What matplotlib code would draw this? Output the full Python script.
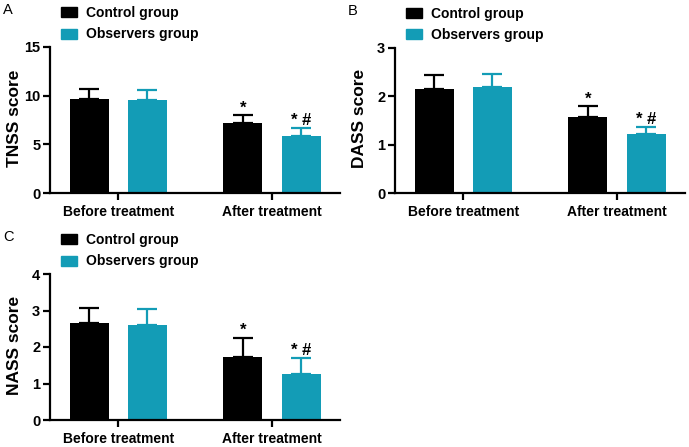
import numpy as np
import matplotlib
matplotlib.use("Agg")
import matplotlib.pyplot as plt
from matplotlib.patches import Patch

plt.rcParams['font.family'] = ['Liberation Sans', 'DejaVu Sans']
plt.rcParams['font.weight'] = 'bold'

# data
groups = ["Before treatment", "After treatment"]
series = ["Control group", "Observers group"]
colors = ["#000000", "#139cb6"]

tnss_mean = {"Control group": [9.63, 7.23], "Observers group": [9.53, 5.86]}
tnss_err = {"Control group": [1.03, 0.75], "Observers group": [1.10, 0.79]}
dass_mean = {"Control group": [2.15, 1.57], "Observers group": [2.19, 1.22]}
dass_err = {"Control group": [0.29, 0.22], "Observers group": [0.27, 0.14]}
nass_mean = {"Control group": [2.67, 1.72], "Observers group": [2.60, 1.27]}
nass_err = {"Control group": [0.41, 0.54], "Observers group": [0.45, 0.42]}

marks = {"Control group": "*", "Observers group": "* #"}

W, H = 689, 447
fig = plt.figure(figsize=(W / 100, H / 100), dpi=100)


def px_axes(left, top, right, bottom):
    return fig.add_axes([left / W, 1 - bottom / H, (right - left) / W, (bottom - top) / H])


def panel(ax, means, errs, ymax, yticks, ylabel, letter):
    x = np.arange(len(groups))
    bw = 0.254
    offs = [-0.189, 0.189]
    for s, c, o in zip(series, colors, offs):
        ax.bar(x + o, means[s], width=bw, color=c, zorder=2)
        ax.errorbar(x + o, means[s], yerr=[np.zeros(len(x)), errs[s]], fmt='none',
                    ecolor=c, elinewidth=1.6, capsize=7, capthick=1.6, zorder=1)
        top = np.array(means[s][1]) + errs[s][1]
        ax.annotate(marks[s], (x[1] + o, top), xytext=(0, 0), textcoords='offset points',
                    ha='center', va='bottom', fontsize=12, fontweight='bold')
    ax.set_xlim(-0.446, 1.443)
    ax.set_ylim(0, ymax)
    ax.set_yticks(yticks)
    ax.set_xticks(x)
    ax.set_xticklabels(groups)
    ax.set_ylabel(ylabel, fontsize=12.5, fontweight='bold')
    ax.yaxis.set_label_coords(-0.095, 0.51)
    for sp in ['top', 'right']:
        ax.spines[sp].set_visible(False)
    for sp in ['left', 'bottom']:
        ax.spines[sp].set_linewidth(1.6)
    ax.tick_params(width=1.6, length=5)
    ax.tick_params(axis='x', labelsize=10)
    ax.tick_params(axis='y', labelsize=10.5, pad=2)
    for lab in ax.get_xticklabels() + ax.get_yticklabels():
        lab.set_fontweight('bold')
    handles = [Patch(color=c, label=s) for s, c in zip(series, colors)]
    ax.legend(handles=handles, loc='lower left', bbox_to_anchor=(0.02, 1.0), frameon=False,
              handlelength=1.1, handleheight=0.75, handletextpad=0.7, labelspacing=0.55,
              borderpad=0.1, borderaxespad=0.3,
              prop={'family': ['Liberation Sans'], 'weight': 'bold', 'size': 10})
    bb = ax.get_position()
    fig.text(bb.x0 - 47 / W, bb.y1 + 30 / H, letter, fontsize=10.5, fontweight='normal', va='bottom')


axA = px_axes(50, 47, 340, 193)
panel(axA, tnss_mean, tnss_err, 15, [0, 5, 10, 15], "TNSS score", "A")
axB = px_axes(395, 47.7, 685, 193)
panel(axB, dass_mean, dass_err, 3, [0, 1, 2, 3], "DASS score", "B")
axC = px_axes(50, 274, 340, 420)
panel(axC, nass_mean, nass_err, 4, [0, 1, 2, 3, 4], "NASS score", "C")

fig.savefig("out.png", dpi=100)
